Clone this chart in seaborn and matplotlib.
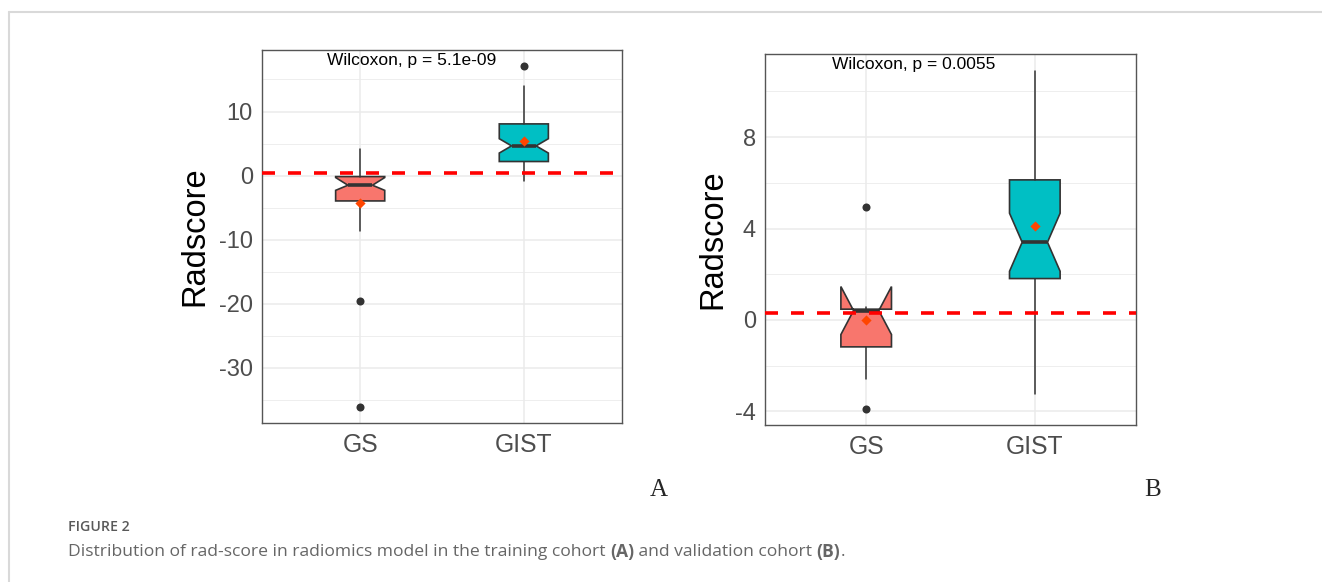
import numpy as np
import pandas as pd
import matplotlib
matplotlib.use("Agg")
import matplotlib.pyplot as plt
from matplotlib.lines import Line2D
import seaborn as sns

# ---------------- data ----------------
groups = ["GS", "GIST"]
box_colors = ["#F8766D", "#00BFC4"]

# Panel A - training cohort
a_q1 = [-3.95, 2.20]
a_med = [-1.50, 4.64]
a_q3 = [-0.15, 8.07]
a_whislo = [-8.6, -0.77]
a_whishi = [4.1, 14.0]
a_cilo = [-2.30, 3.52]
a_cihi = [-0.30, 5.76]
a_mean = [-4.3, 5.46]
a_out_group = ["GS", "GS", "GIST"]
a_out_value = [-19.6, -36.1, 17.1]
a_cutoff = 0.37
a_ticks = [-30, -20, -10, 0, 10]
a_minor = [-35, -25, -15, -5, 5, 15]
a_label = "Wilcoxon, p = 5.1e-09"

# Panel B - validation cohort
b_q1 = [-1.18, 1.81]
b_med = [0.41, 3.40]
b_q3 = [0.47, 6.13]
b_whislo = [-2.6, -3.24]
b_whishi = [0.55, 10.9]
b_cilo = [-0.64, 2.13]
b_cihi = [1.46, 4.67]
b_mean = [0.0, 4.09]
b_out_group = ["GS", "GS"]
b_out_value = [4.96, -3.88]
b_cutoff = 0.29
b_ticks = [-4, 0, 4, 8]
b_minor = [-2, 2, 6, 10]
b_label = "Wilcoxon, p = 0.0055"

# ---------------- style ----------------
sns.set_theme(style="white")
plt.rcParams["font.family"] = ["Liberation Sans", "DejaVu Sans"]

W, H = 1322, 582
fig = plt.figure(figsize=(W / 100, H / 100), dpi=100)
fig.patch.set_facecolor("white")

EDGE = "#333333"


def px_axes(left, top, right, bottom):
    return fig.add_axes([left / W, 1 - bottom / H, (right - left) / W, (bottom - top) / H])


def draw_panel(ax, q1, med, q3, wlo, whi, cilo, cihi, means, out_g, out_v,
               cutoff, ylim, ticks, minor, label, label_y, ylab_x):
    stats = []
    for i, g in enumerate(groups):
        stats.append(dict(label=g, q1=q1[i], med=med[i], q3=q3[i],
                          whislo=wlo[i], whishi=whi[i], cilo=cilo[i],
                          cihi=cihi[i], mean=means[i], fliers=[]))
    art = ax.bxp(stats, positions=[0, 1], widths=0.3, shownotches=True,
                 patch_artist=True, showcaps=False, showfliers=False,
                 showmeans=False, manage_ticks=False,
                 boxprops=dict(edgecolor=EDGE, linewidth=1.2),
                 whiskerprops=dict(color=EDGE, linewidth=1.1),
                 medianprops=dict(color=EDGE, linewidth=2.6, solid_capstyle="butt"))
    for patch, c in zip(art["boxes"], box_colors):
        patch.set_facecolor(c)

    df_out = pd.DataFrame({"group": out_g, "value": out_v})
    sns.stripplot(data=df_out, x="group", y="value", order=groups, jitter=False,
                  color="#333333", size=5.8, linewidth=0, ax=ax, zorder=5)
    df_mean = pd.DataFrame({"group": groups, "value": means})
    sns.stripplot(data=df_mean, x="group", y="value", order=groups, jitter=False,
                  color="#FF4500", marker="D", size=5.2, linewidth=0, ax=ax, zorder=6)

    ax.axhline(cutoff, color="#FF0000", lw=2.6, ls=(0, (3.6, 3.6)), zorder=4)

    ax.set_xlim(-0.6, 1.6)
    ax.set_ylim(*ylim)
    ax.set_xticks([0, 1])
    ax.set_xticklabels(groups)
    ax.set_yticks(ticks)
    ax.set_yticklabels([str(t) for t in ticks])
    ax.set_yticks(minor, minor=True)
    ax.grid(True, which="major", color="#EBEBEB", lw=1.1)
    ax.grid(True, which="minor", axis="y", color="#EBEBEB", lw=0.6)
    ax.set_axisbelow(True)
    for s in ax.spines.values():
        s.set_visible(True)
        s.set_color("#555555")
        s.set_linewidth(1.0)
    ax.tick_params(axis="both", which="major", length=3.5, width=1.0,
                   color="#333333", labelcolor="#4D4D4D", labelsize=17, pad=3)
    ax.tick_params(axis="x", which="major", labelsize=17.8, pad=4)
    ax.tick_params(which="minor", length=0)
    ax.set_xlabel("")
    ax.set_ylabel("Radscore", fontsize=23.5, color="black", va="center")
    ax.yaxis.set_label_coords(ylab_x, 0.5)
    ax.text(-0.2, label_y, label, ha="left", va="center", fontsize=12.5, color="black")


axA = px_axes(262, 50, 622, 423)
draw_panel(axA, a_q1, a_med, a_q3, a_whislo, a_whishi, a_cilo, a_cihi, a_mean,
           a_out_group, a_out_value, a_cutoff, (-38.6, 19.6), a_ticks, a_minor,
           a_label, 17.9, -0.186)

axB = px_axes(765, 54, 1136, 425)
draw_panel(axB, b_q1, b_med, b_q3, b_whislo, b_whishi, b_cilo, b_cihi, b_mean,
           b_out_group, b_out_value, b_cutoff, (-4.6, 11.64), b_ticks, b_minor,
           b_label, 11.17, -0.141)

# panel letters
fig.text(659 / W, 1 - 490 / H, "A", ha="center", va="center", fontsize=18,
         family=["Liberation Serif", "DejaVu Serif"])
fig.text(1153 / W, 1 - 490 / H, "B", ha="center", va="center", fontsize=18,
         family=["Liberation Serif", "DejaVu Serif"])

# card border
fig.add_artist(Line2D([9 / W, 1], [1 - 12 / H, 1 - 12 / H], color="#D9D9D9", lw=1.5,
                      transform=fig.transFigure))
fig.add_artist(Line2D([9 / W, 9 / W], [0, 1 - 12 / H], color="#D9D9D9", lw=1.5,
                      transform=fig.transFigure))

# caption
cap_family = ["Open Sans", "DejaVu Sans"]
fig.text(68 / W, 1 - 527 / H, "FIGURE 2", ha="left", va="center", fontsize=10.2,
         fontweight="semibold", color="#595959", family=cap_family)

pieces = [("Distribution of rad-score in radiomics model in the training cohort ", "normal"),
          ("(A)", "bold"),
          (" and validation cohort ", "normal"),
          ("(B)", "bold"),
          (".", "normal")]
fig.canvas.draw()
renderer = fig.canvas.get_renderer()
x = 68.0
for txt, wt in pieces:
    t = fig.text(x / W, 1 - 552 / H, txt, ha="left", va="center", fontsize=12.6,
                 fontweight=wt, color="#666666", family=cap_family)
    bb = t.get_window_extent(renderer=renderer)
    x += bb.width

fig.savefig("out.png", dpi=100, facecolor="white")
